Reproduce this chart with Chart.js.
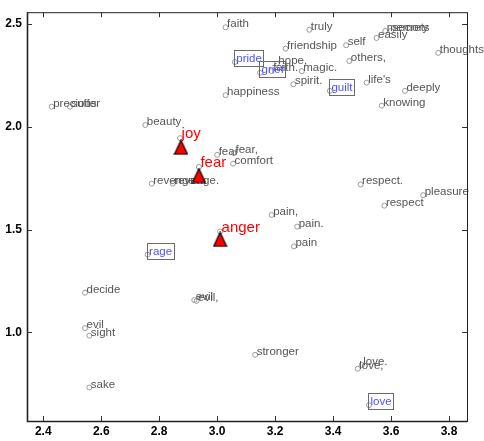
<!DOCTYPE html>
<html><head><meta charset="utf-8">
<script src="https://cdn.jsdelivr.net/npm/chart.js@4.4.0/dist/chart.umd.min.js"></script>
<style>html,body{margin:0;padding:0;background:#fff}</style>
</head><body>
<canvas id="c" width="484" height="441"></canvas>
<script>
// ---- data ----
const words = ['precious','suffer','beauty','faith','happiness','hope,','faith.','magic.','spirit.','friendship',
  'truly','self','others,',"life's",'easily','memory','secrets','thoughts','deeply','knowing',
  'revenge','revenge.','fear','fear,','comfort','respect.','respect','pleasure','pain,','pain.','pain',
  'decide','evil','sight','sake','evil','evil,','stronger','love.','love,'];
const wordX = [2.429,2.492,2.752,3.029,3.029,3.206,3.188,3.292,3.263,3.236,
  3.318,3.445,3.456,3.516,3.550,3.580,3.600,3.763,3.648,3.568,
  2.774,2.847,3.000,3.058,3.055,3.495,3.577,3.711,3.188,3.276,3.265,
  2.544,2.544,2.559,2.559,2.921,2.929,3.131,3.499,3.485];
const wordY = [2.097,2.097,2.008,2.483,2.153,2.306,2.270,2.270,2.206,2.379,
  2.471,2.396,2.319,2.214,2.431,2.465,2.465,2.359,2.174,2.102,
  1.723,1.723,1.863,1.871,1.820,1.719,1.616,1.667,1.571,1.514,1.418,
  1.193,1.021,0.984,0.732,1.157,1.153,0.891,0.842,0.823];

const boxedWords = ['pride','grief','guilt','rage','love'];
const boxedX = [3.061,3.148,3.389,2.760,3.524];
const boxedY = [2.314,2.262,2.174,1.378,0.646];

const emotions = ['joy','fear','anger'];
const emotionX = [2.872,2.937,3.010];
const emotionY = [1.944,1.804,1.490];
const centroidX = [2.875,2.937,3.010];
const centroidY = [1.900,1.762,1.452];

const xTicks = [2.4,2.6,2.8,3.0,3.2,3.4,3.6,3.8];
const yTicks = [1.0,1.5,2.0,2.5];

// ---- build ----
const allX = wordX.concat(boxedX, emotionX);
const allY = wordY.concat(boxedY, emotionY);
const allLabels = words.concat(boxedWords, emotions);
const kinds = words.map(()=> 'w').concat(boxedWords.map(()=> 'b'), emotions.map(()=> 'e'));
const pts = allX.map((x,i)=>({x:x, y:allY[i]}));
const tris = centroidX.map((x,i)=>({x:x, y:centroidY[i]}));

const tri = document.createElement('canvas');
tri.width = 15; tri.height = 16;
(function(){
  const c = tri.getContext('2d');
  c.beginPath();
  c.moveTo(7.5, 1); c.lineTo(14, 15); c.lineTo(1, 15); c.closePath();
  c.fillStyle = '#ff0000'; c.fill();
  c.lineWidth = 1.2; c.strokeStyle = '#000'; c.stroke();
})();

const FONT = '"Liberation Sans", Arial, Helvetica, sans-serif';

const labelPlugin = {
  id: 'wordLabels',
  afterDatasetDraw(chart, args) {
    if (args.index !== 0) return;
    const ctx = chart.ctx;
    const meta = chart.getDatasetMeta(0);
    ctx.save();
    ctx.textBaseline = 'alphabetic';
    ctx.textAlign = 'left';
    meta.data.forEach((el, i) => {
      const k = kinds[i];
      if (k === 'e') return;
      const t = allLabels[i];
      ctx.font = '11.5px ' + FONT;
      if (k === 'w') {
        ctx.fillStyle = '#555555';
        ctx.fillText(t, el.x + 1.5, el.y);
      } else {
        ctx.fillStyle = '#5050ff';
        ctx.fillText(t, el.x + 1.5, el.y);
        const w = ctx.measureText(t).width;
        ctx.strokeStyle = '#6a6a6a';
        ctx.lineWidth = 1;
        ctx.strokeRect(Math.round(el.x - 1) + 0.5, Math.round(el.y - 12) + 0.5, Math.round(w + 3.5), 16);
      }
    });
    ctx.restore();
  },
  afterDatasetsDraw(chart) {
    const ctx = chart.ctx;
    const meta = chart.getDatasetMeta(0);
    ctx.save();
    ctx.textBaseline = 'alphabetic';
    ctx.textAlign = 'left';
    ctx.font = '15px ' + FONT;
    ctx.fillStyle = '#ff0000';
    meta.data.forEach((el, i) => {
      if (kinds[i] !== 'e') return;
      ctx.fillText(allLabels[i], el.x + 1.5, el.y);
    });
    // frame
    const a = chart.chartArea;
    const xs = chart.scales.x, ys = chart.scales.y;
    ctx.strokeStyle = '#222';
    ctx.lineWidth = 1;
    ctx.strokeRect(a.left + 0.5, a.top + 0.5, a.right - a.left, a.bottom - a.top);
    ctx.lineWidth = 1.6;
    ctx.beginPath();
    ctx.moveTo(a.left + 0.5, a.top); ctx.lineTo(a.left + 0.5, a.bottom + 0.5);
    ctx.lineTo(a.right, a.bottom + 0.5);
    ctx.stroke();
    ctx.lineWidth = 1;
    ctx.strokeStyle = '#333';
    ctx.beginPath();
    const L = 5;
    xTicks.forEach(v => {
      const px = Math.round(xs.getPixelForValue(v)) + 0.5;
      ctx.moveTo(px, a.bottom); ctx.lineTo(px, a.bottom - L);
      ctx.moveTo(px, a.top); ctx.lineTo(px, a.top + L);
    });
    yTicks.forEach(v => {
      const py = Math.round(ys.getPixelForValue(v)) + 0.5;
      ctx.moveTo(a.left, py); ctx.lineTo(a.left + L, py);
      ctx.moveTo(a.right, py); ctx.lineTo(a.right - L, py);
    });
    ctx.stroke();
    ctx.restore();
  }
};

new Chart(document.getElementById('c'), {
  type: 'scatter',
  data: {
    datasets: [
      { data: pts, order: 2, pointStyle: 'circle', pointRadius: 2.5, pointHoverRadius: 2.5,
        borderColor: '#9a9a9a', backgroundColor: 'rgba(0,0,0,0)', borderWidth: 1 },
      { data: tris, order: 1, pointStyle: tri, pointRadius: 8, pointHoverRadius: 8 }
    ]
  },
  options: {
    responsive: false,
    animation: false,
    events: [],
    layout: { padding: { top: 9, right: 17, left: 0, bottom: 0 } },
    plugins: { legend: { display: false }, tooltip: { enabled: false } },
    scales: {
      x: {
        type: 'linear', min: 2.3438, max: 3.8621,
        afterBuildTicks: s => { s.ticks = xTicks.map(v => ({ value: v })); },
        afterFit: s => { s.height = 20; },
        grid: { display: false, drawTicks: false },
        border: { display: false },
        ticks: { color: '#000', padding: 3, font: { family: FONT, size: 12, weight: 'bold' },
          callback: v => Number(v).toFixed(1) }
      },
      y: {
        type: 'linear', min: 0.5692, max: 2.5564,
        afterBuildTicks: s => { s.ticks = yTicks.map(v => ({ value: v })); },
        afterFit: s => { s.width = 27; },
        grid: { display: false, drawTicks: false },
        border: { display: false },
        ticks: { color: '#000', padding: 5, font: { family: FONT, size: 12, weight: 'bold' },
          callback: v => Number(v).toFixed(1) }
      }
    }
  },
  plugins: [labelPlugin]
});
</script>
</body></html>
